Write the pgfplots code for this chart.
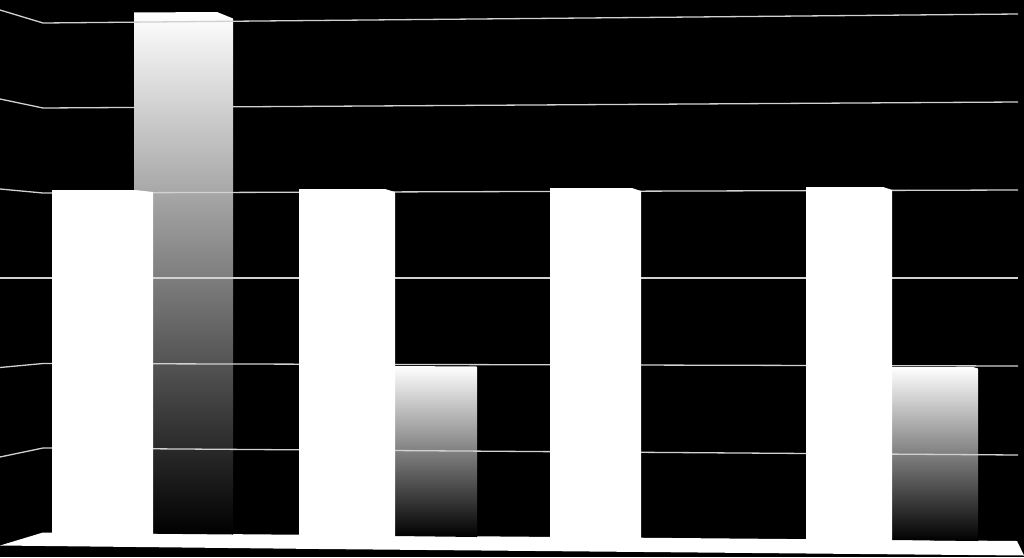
\documentclass[border=0pt]{standalone}
\usepackage{pgfplots}
\pgfplotsset{compat=1.18}

\definecolor{gridgray}{gray}{0.82}

\begin{document}
\begin{tikzpicture}
\begin{axis}[
	scale only axis,
	width=1024pt,
	height=557pt,
	xmin=0, xmax=1024,
	ymin=0, ymax=557,
	y dir=reverse,
	ticks=none,
	axis line style={draw=none, line width=0pt},
	axis background/.style={fill=black},
	clip=true,
]
% floor
\addplot[draw=none, fill=white] coordinates {(0,545.5) (43,532.5) (1017,541) (1024,555.5) (320,549) (0,545.5)};

% shaded bars
\addplot[draw=none, top color=white, bottom color=black] coordinates {(134,12.5) (217,12) (233,18.5) (233,534.5) (134,533.5) (134,12.5)};
\addplot[draw=none, top color=white, bottom color=black] coordinates {(395,366) (477,366.5) (477,537) (395,536) (395,366)};
\addplot[draw=none, top color=white, bottom color=black] coordinates {(892,367) (973,367) (978,368.5) (978,541) (892,540) (892,367)};

% grid lines
\addplot[gridgray, line width=1.3pt] coordinates {(0,10) (43,23) (1018,14)};
\addplot[gridgray, line width=1.3pt] coordinates {(0,99) (43,108) (1018,102)};
\addplot[gridgray, line width=1.3pt] coordinates {(0,189) (43,193) (1018,190)};
\addplot[gridgray, line width=1.3pt] coordinates {(0,278) (1018,278)};
\addplot[gridgray, line width=1.3pt] coordinates {(0,367.5) (43,363.5) (1018,366)};
\addplot[gridgray, line width=1.3pt] coordinates {(0,457) (43,448) (1018,455)};

% white bars
\addplot[draw=none, fill=white] coordinates {(52,190) (135,190) (153,192) (153,535) (52,535) (52,190)};
\addplot[draw=none, fill=white] coordinates {(299,189) (385,189) (395,192) (395,537) (299,537) (299,189)};
\addplot[draw=none, fill=white] coordinates {(550,188) (632,188) (641,191) (641,540) (550,540) (550,188)};
\addplot[draw=none, fill=white] coordinates {(806,187) (883,187) (892,190) (892,541) (806,541) (806,187)};
\end{axis}
\end{tikzpicture}
\end{document}
